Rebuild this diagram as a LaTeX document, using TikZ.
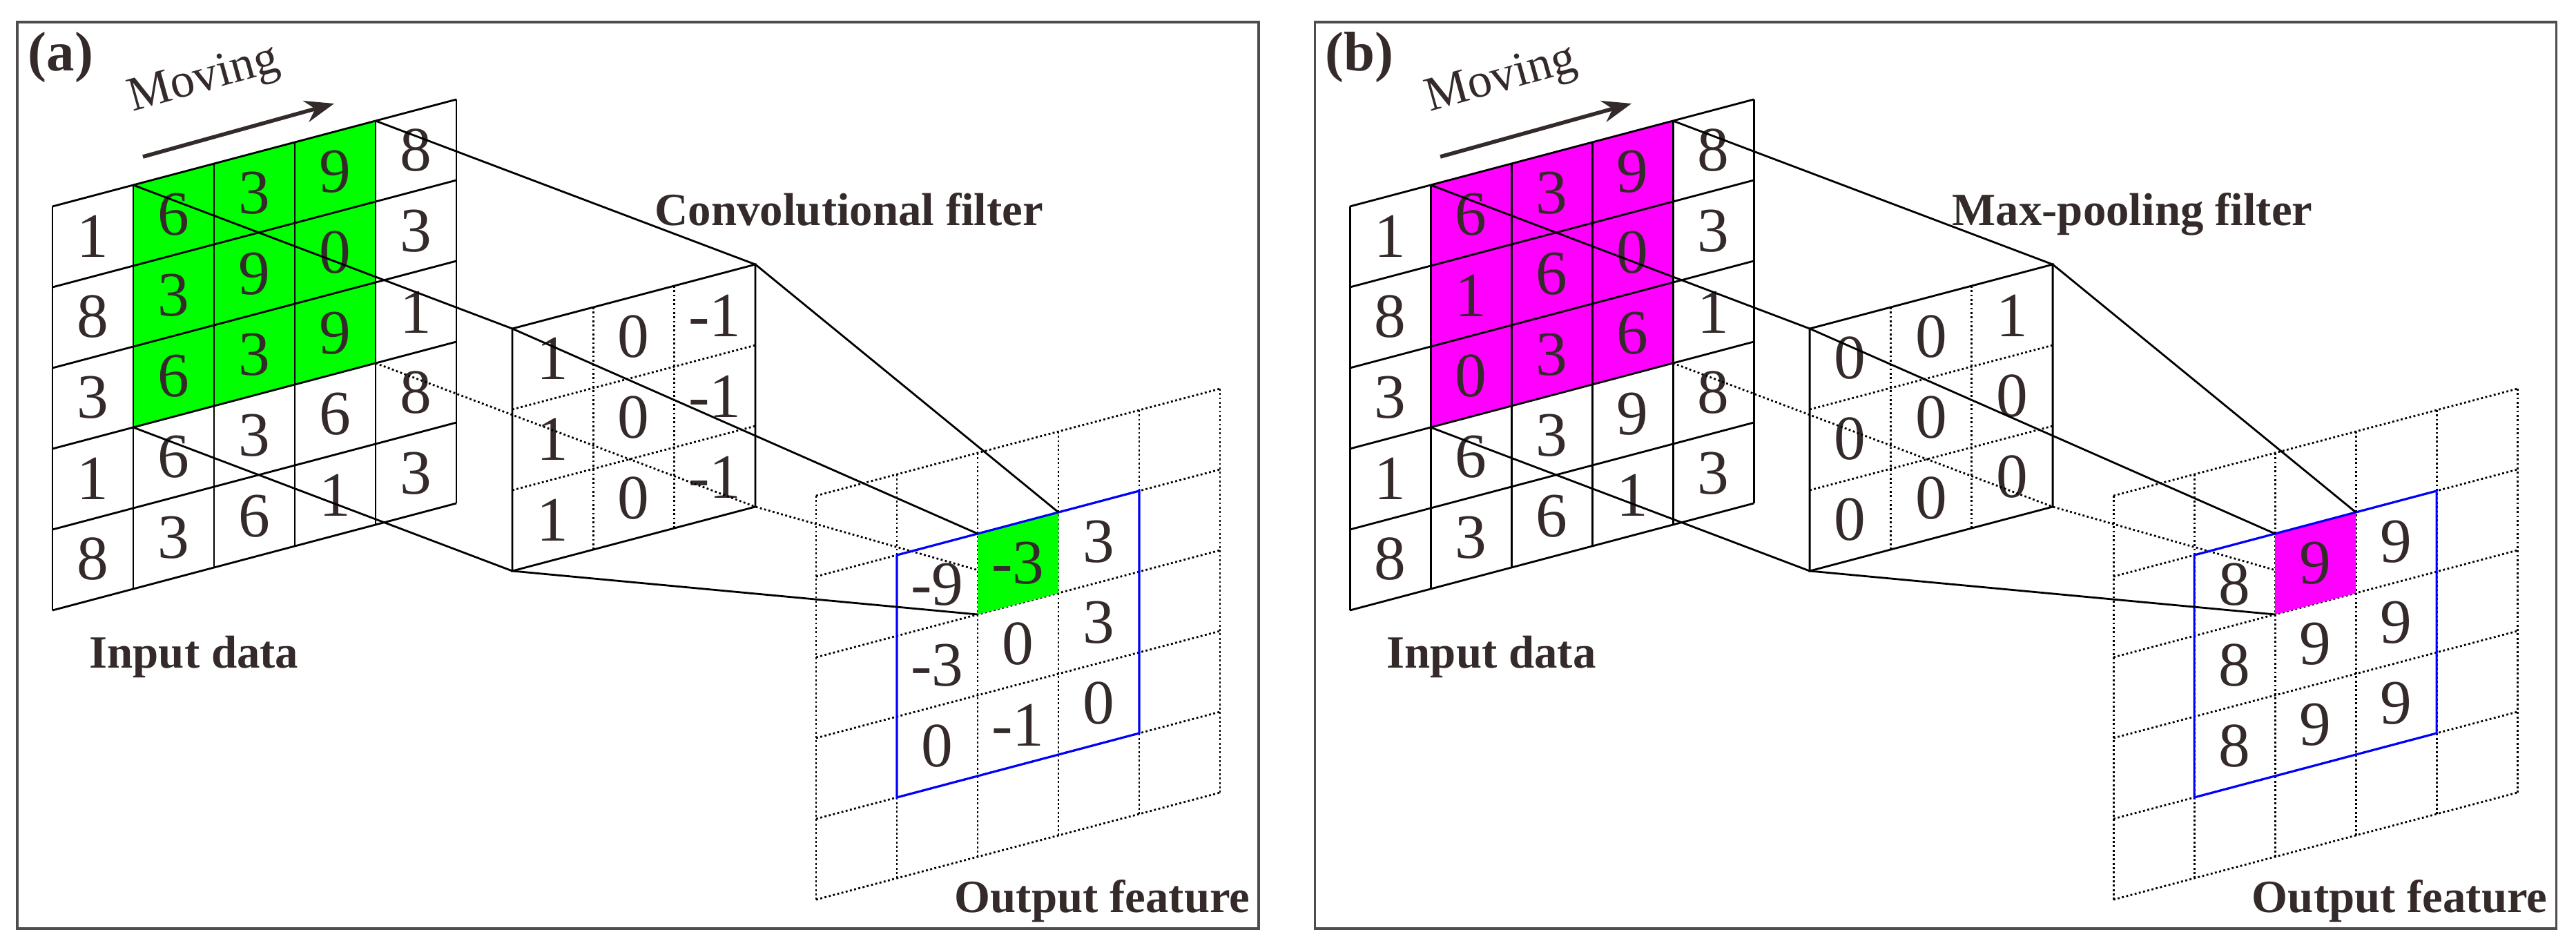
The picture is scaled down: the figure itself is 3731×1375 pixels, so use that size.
\documentclass[tikz,border=0pt]{standalone}
\usepackage{fontspec}
\setmainfont{Liberation Serif}
\usetikzlibrary{arrows.meta}
\definecolor{inkbrown}{RGB}{52,42,42}
\definecolor{framegray}{RGB}{80,76,76}
\definecolor{convgreen}{RGB}{0,255,0}
\definecolor{poolpink}{RGB}{255,0,255}
\tikzset{
  frame/.style = {draw=framegray, line width=0.9pt},
  grid/.style = {draw=black, line width=0.8pt},
  dgrid/.style = {draw=black, line width=0.8pt, densely dotted},
  box/.style = {draw=blue, line width=0.9pt},
  link/.style = {draw=black, line width=0.8pt},
  dlink/.style = {draw=black, line width=0.8pt, densely dotted},
  cellnum/.style = {inkbrown, inner sep=0pt, font=\fontsize{26}{30}\selectfont},
  tag/.style = {inkbrown, inner sep=0pt, anchor=north west, font=\fontsize{23}{26}\selectfont\bfseries},
  lbl/.style = {inkbrown, inner sep=0pt, font=\fontsize{19}{22}\selectfont\bfseries},
  move/.style = {inkbrown, line width=1.6pt, -{Stealth[length=12pt,width=9pt]}},
  movetext/.style = {inkbrown, inner sep=0pt, font=\fontsize{20}{24}\selectfont}
}
% #1 shift, #2 name, #3 fill, #4 filter title, #5 input, #6 filter, #7 output, #8 tag
\newcommand{\cnnpanel}[8]{%
\begin{scope}[xshift=#1]
  \draw[frame] (25,32) rectangle (1823,1345);
  \node[tag] (#2-tag) at (40,46) {(#8)};
  % input data
  \fill[#3] (193,268) -- (544,175) -- (544,526) -- (193,619) -- cycle;
  \foreach \k in {0,...,5} {
    \draw[grid] (76+117*\k,299-31*\k) -- (76+117*\k,884-31*\k);
    \draw[grid] (76,299+117*\k) -- (661,144+117*\k);
  }
  \foreach \col [count=\c from 0] in {#5} {
    \foreach \v [count=\r from 0] in \col {
      \node[cellnum] (#2-in-\c-\r) at (76+117*\c+58.5,299-31*\c-15.5+117*\r+58.5) {\v};
    }
  }
  % filter
  \draw[grid] (742,476) -- (1094,383) -- (1094,734) -- (742,827) -- cycle;
  \foreach \k in {1,2} {
    \draw[dgrid] (742+117.3*\k,476-31*\k) -- (742+117.3*\k,827-31*\k);
    \draw[dgrid] (742,476+117*\k) -- (1094,383+117*\k);
  }
  \foreach \col [count=\c from 0] in {#6} {
    \foreach \v [count=\r from 0] in \col {
      \node[cellnum] (#2-fi-\c-\r) at (742+117.3*\c+58.5,476-31*\c-15.5+117*\r+58.5) {\v};
    }
  }
  % output feature
  \foreach \k in {0,...,5} {
    \draw[dgrid] (1182+117*\k,718-31*\k) -- (1182+117*\k,1303-31*\k);
    \draw[dgrid] (1182,718+117*\k) -- (1767,563+117*\k);
  }
  \coordinate (#2-g1) at (193,268);
  \coordinate (#2-g2) at (544,175);
  \coordinate (#2-g3) at (193,619);
  \coordinate (#2-g4) at (544,526);
  \coordinate (#2-f1) at (742,476);
  \coordinate (#2-f2) at (1094,383);
  \coordinate (#2-f3) at (742,827);
  \coordinate (#2-f4) at (1094,734);
  \coordinate (#2-o1) at (1416,773);
  \coordinate (#2-o2) at (1533,742);
  \coordinate (#2-o3) at (1416,890);
  \coordinate (#2-o4) at (1533,859);
  \draw[dlink] (#2-g4) -- (#2-f4) -- (#2-o4);
  \fill[#3] (#2-o1) -- (#2-o2) -- (#2-o4) -- (#2-o3) -- cycle;
  \draw[box] (1299,804) -- (1650,711) -- (1650,1062) -- (1299,1155) -- cycle;
  \foreach \col [count=\c from 1] in {#7} {
    \foreach \v [count=\r from 1] in \col {
      \node[cellnum] (#2-out-\c-\r) at (1182+117*\c+58.5,718-31*\c-15.5+117*\r+58.5) {\v};
    }
  }
  \draw[link] (#2-g1) -- (#2-f1) -- (#2-o1);
  \draw[link] (#2-g2) -- (#2-f2) -- (#2-o2);
  \draw[link] (#2-g3) -- (#2-f3) -- (#2-o3);
  % labels
  \coordinate (#2-m1) at (207,227);
  \coordinate (#2-m2) at (484,150);
  \draw[move] (#2-m1) -- node[sloped, above=14pt, pos=0.4, movetext] (#2-mv) {Moving} (#2-m2);
  \node[lbl, anchor=base west] (#2-title) at (948,326) {#4};
  \node[lbl, anchor=base west] (#2-input) at (129,967) {Input data};
  \node[lbl, anchor=base east] (#2-output) at (1811,1321) {Output feature};
\end{scope}}

\begin{document}
\begin{tikzpicture}[x=0.01cm, y=-0.01cm]
  \useasboundingbox (0,0) rectangle (3731,1375);
  \cnnpanel{0cm}{conv}{convgreen}{Convolutional filter}%
    {{1,8,3,1,8},{6,3,6,6,3},{3,9,3,3,6},{9,0,9,6,1},{8,3,1,8,3}}%
    {{1,1,1},{0,0,0},{-1,-1,-1}}%
    {{-9,-3,0},{-3,0,-1},{3,3,0}}{a}
  \cnnpanel{18.78cm}{pool}{poolpink}{Max-pooling filter}%
    {{1,8,3,1,8},{6,1,0,6,3},{3,6,3,3,6},{9,0,6,9,1},{8,3,1,8,3}}%
    {{0,0,0},{0,0,0},{1,0,0}}%
    {{8,8,8},{9,9,9},{9,9,9}}{b}
\end{tikzpicture}
\end{document}
